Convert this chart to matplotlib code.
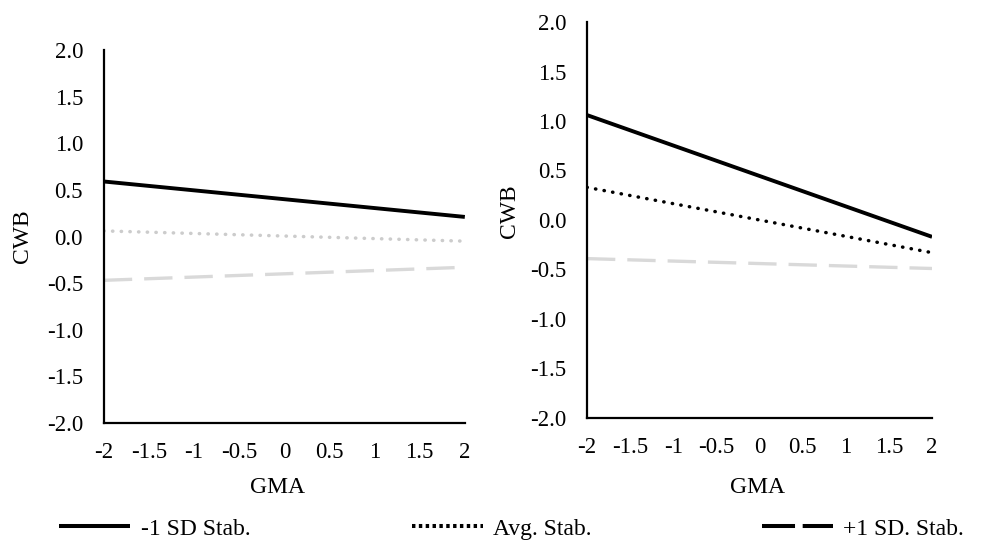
import matplotlib
matplotlib.use("Agg")
import matplotlib.pyplot as plt
import matplotlib.lines as mlines

plt.rcParams['font.family'] = ['Liberation Serif', 'DejaVu Serif']

gma = [-2, 2]
# left panel
left_low = [0.59, 0.21]
left_avg = [0.06, -0.05]
left_high = [-0.47, -0.33]
# right panel
right_low = [1.06, -0.17]
right_avg = [0.33, -0.33]
right_high = [-0.39, -0.49]

x_ticks = [-2, -1.5, -1, -0.5, 0, 0.5, 1, 1.5, 2]
x_tick_labels = ["-2", "-1.5", "-1", "-0.5", "0", "0.5", "1", "1.5", "2"]
y_ticks = [-2.0, -1.5, -1.0, -0.5, 0.0, 0.5, 1.0, 1.5, 2.0]
y_tick_labels = ["-2.0", "-1.5", "-1.0", "-0.5", "0.0", "0.5", "1.0", "1.5", "2.0"]
legend_labels = ["-1 SD Stab.", "Avg. Stab.", "+1 SD. Stab."]

LIGHT = "#d9d9d9"
DOT_LIGHT = "#cccccc"


def style_axis(ax, ylab_x, ylab_y, xlab_x, xlab_y):
	ax.set_xlim(-2, 2)
	ax.set_ylim(-2, 2)
	ax.set_xticks(x_ticks)
	ax.set_xticklabels(x_tick_labels)
	ax.set_yticks(y_ticks)
	ax.set_yticklabels(y_tick_labels)
	ax.tick_params(length=0, labelsize=16.5)
	ax.tick_params(axis="y", pad=15)
	ax.tick_params(axis="x", pad=14)
	for side in ["top", "right"]:
		ax.spines[side].set_visible(False)
	for side in ["left", "bottom"]:
		ax.spines[side].set_linewidth(1.6)
	ax.set_ylabel("CWB", fontsize=17)
	ax.set_xlabel("GMA", fontsize=17)
	ax.yaxis.set_label_coords(ylab_x, ylab_y)
	ax.xaxis.set_label_coords(xlab_x, xlab_y)


fig = plt.figure(figsize=(9.89, 5.42), dpi=100)

ax1 = fig.add_axes([0.105, 0.2196, 0.365, 0.6881])
ax1.plot(gma, left_low, color="black", lw=2.8, solid_capstyle="butt")
ax1.plot(gma, left_avg, color=DOT_LIGHT, lw=2.5, linestyle=(0, (0.1, 2.4)), dash_capstyle="round")
ax1.plot(gma, left_high, color=LIGHT, lw=2.4, linestyle=(0, (8.5, 3.6)), dash_capstyle="butt")
style_axis(ax1, -0.197, 0.5, 0.482, -0.145)

ax2 = fig.add_axes([0.5935, 0.2288, 0.3489, 0.7306])
ax2.plot(gma, right_low, color="black", lw=2.8, solid_capstyle="butt")
ax2.plot(gma, right_avg, color="black", lw=2.5, linestyle=(0, (0.1, 2.4)), dash_capstyle="round")
ax2.plot(gma, right_high, color=LIGHT, lw=2.4, linestyle=(0, (8.5, 3.6)), dash_capstyle="butt")
style_axis(ax2, -0.194, 0.523, 0.493, -0.149)

# legend keys along the bottom
h_low = mlines.Line2D([], [], color="black", lw=2.9, solid_capstyle="butt")
h_avg = mlines.Line2D([], [], color="black", lw=2.9, linestyle=(0, (0.85, 0.85)), dash_capstyle="butt")
h_high = mlines.Line2D([], [], color="black", lw=2.9, linestyle=(0, (8.2, 1.9)), dash_capstyle="butt")

for handle, label, xpos in zip([h_low, h_avg, h_high], legend_labels, [0.0597, 0.4166, 0.7705]):
	fig.legend(handles=[handle], labels=[label], loc="center left",
			bbox_to_anchor=(xpos, 0.024), frameon=False, fontsize=17,
			handlelength=3.0, handletextpad=0.45, borderpad=0, borderaxespad=0)

fig.savefig("out.png", dpi=100)
